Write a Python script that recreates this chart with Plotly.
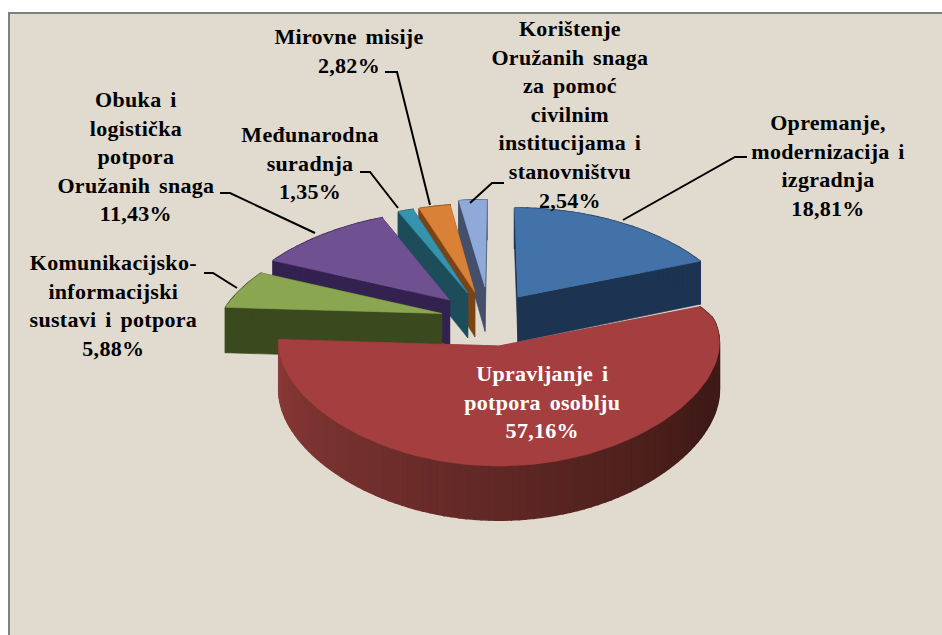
import math
import plotly.graph_objects as go

# ---- data, clockwise from 12 o'clock ----
categories = ["Opremanje, modernizacija i izgradnja", "Upravljanje i potpora osoblju",
              "Komunikacijsko-informacijski sustavi i potpora", "Obuka i logistička potpora Oružanih snaga",
              "Međunarodna suradnja", "Mirovne misije",
              "Korištenje Oružanih snaga za pomoć civilnim institucijama i stanovništvu"]
values = [18.81, 57.16, 5.88, 11.43, 1.35, 2.82, 2.54]

# ---- style ----
top_colors = ["#4272A8", "#A53F3F", "#8BA650", "#6F5090", "#3593AE", "#D98237", "#8FAAD9"]
wall_colors = ["#1D3352", "#7A3130", "#3B4A1E", "#33224F", "#1D4C5B", "#7A4416", "#44506B"]
pull = [0.232, 0.267, 0.255, 0.284, 0.285, 0.28, 0.318]
pull_dir = [25, 178, 280, 309, 331, 338, 349.6]
draw_order = [0, 6, 5, 4, 3, 2, 1]

XC, YC, A, B, KX, KY, D, KD = 497, 318, 222, 102, 0.2, 0.1, 46, 0.12


def project(u, v, z=0.0):
    return (XC + A * u / (1 - KX * min(v, 0) + 0.03 * max(v, 0)),
            YC + B * v / (1 - KY * v) + z * D / (1 - KD * v))


def mix(c1, c2, t):
    a = [int(c1[i:i + 2], 16) for i in (1, 3, 5)]
    b = [int(c2[i:i + 2], 16) for i in (1, 3, 5)]
    return "rgb(%d,%d,%d)" % tuple(round(x + (y - x) * t) for x, y in zip(a, b))


def poly(pts, color, name=None, lw=0.6):
    fig.add_trace(go.Scatter(
        x=[p[0] for p in pts] + [pts[0][0]], y=[p[1] for p in pts] + [pts[0][1]],
        mode="lines", fill="toself", fillcolor=color,
        line=dict(color=color, width=lw), showlegend=False,
        hoverinfo="text" if name else "skip", text=name, hoveron="fills"))


fig = go.Figure()

starts = []
acc = 0.0
total = sum(values)
for val in values:
    starts.append(acc)
    acc += val / total * 360

for i in draw_order:
    t0, t1 = starts[i], starts[i] + values[i] / total * 360
    u0 = pull[i] * math.sin(math.radians(pull_dir[i]))
    v0 = -pull[i] * math.cos(math.radians(pull_dir[i]))
    n = max(6, int((t1 - t0) / 2))
    angs = [t0 + (t1 - t0) * k / n for k in range(n + 1)]
    rim = [(u0 + math.sin(math.radians(a)), v0 - math.cos(math.radians(a))) for a in angs]
    # radial faces
    for (u, v) in (rim[0], rim[-1]):
        poly([project(u0, v0), project(u, v), project(u, v, 1), project(u0, v0, 1)], wall_colors[i])
    # outer wall
    for k in range(n):
        if i == 1:
            frac = (angs[k] - t0) / (t1 - t0)
            col = mix("#3F1A16", "#8C3A38", max(0.0, (frac - 0.2) / 0.8))
        else:
            col = wall_colors[i]
        a, b = rim[k], rim[k + 1]
        poly([project(*a), project(*b), project(*b, 1), project(*a, 1)], col, lw=1.5)
    # top
    poly([project(u0, v0)] + [project(u, v) for u, v in rim], top_colors[i],
         "%s: %s%%" % (categories[i], str(values[i]).replace(".", ",")))

labels = [
    ("Opremanje,<br>modernizacija i<br>izgradnja<br>18,81%", 828, 165, "#000000"),
    ("Upravljanje i<br>potpora osoblju<br>57,16%", 542, 402, "#FFFFFF"),
    ("Komunikacijsko-<br>informacijski<br>sustavi i potpora<br>5,88%", 113, 305.5, "#000000"),
    ("Obuka i<br>logistička<br>potpora<br>Oružanih snaga<br>11,43%", 136, 156.5, "#000000"),
    ("Međunarodna<br>suradnja<br>1,35%", 310, 163, "#000000"),
    ("Mirovne misije<br>2,82%", 349, 51, "#000000"),
    ("Korištenje<br>Oružanih snaga<br>za pomoć<br>civilnim<br>institucijama i<br>stanovništvu<br>2,54%", 570, 114, "#000000"),
]
annotations = [dict(text=t, x=x, y=y, xref="x", yref="y", showarrow=False, align="center",
                    xanchor="center", yanchor="middle",
                    font=dict(family="Liberation Serif", size=22, color=c, weight="bold"))
               for t, x, y, c in labels]

leaders = [
    "M 623 220 L 735 157 L 747 157",
    "M 470 203 L 492 183 L 504 183",
    "M 430 205 L 397 72 L 385 72",
    "M 398 208 L 370 172 L 360 172",
    "M 315 233 L 230 193 L 220 193",
    "M 237 288 L 213 273 L 204 273",
]
shapes = [dict(type="rect", x0=9, y0=13, x1=960, y1=650, layer="below",
               fillcolor="#E1DACF", line=dict(color="#7F7F7F", width=2))]
shapes += [dict(type="path", path=p, layer="above", line=dict(color="#000000", width=2)) for p in leaders]

fig.update_layout(
    width=942, height=635, margin=dict(l=0, r=0, t=0, b=0),
    paper_bgcolor="#FFFFFF", plot_bgcolor="#FFFFFF", showlegend=False,
    xaxis=dict(range=[0, 942], visible=False, fixedrange=True),
    yaxis=dict(range=[635, 0], visible=False, fixedrange=True),
    annotations=annotations, shapes=shapes,
)
post = ("document.body.style.margin='0';document.body.style.overflow='hidden';"
        "var s=document.createElement('style');"
        "s.textContent='.annotation-text{letter-spacing:.3px;word-spacing:3px}';"
        "document.head.appendChild(s);")
fig.write_html("out.html", post_script=post, config={"displayModeBar": False})
